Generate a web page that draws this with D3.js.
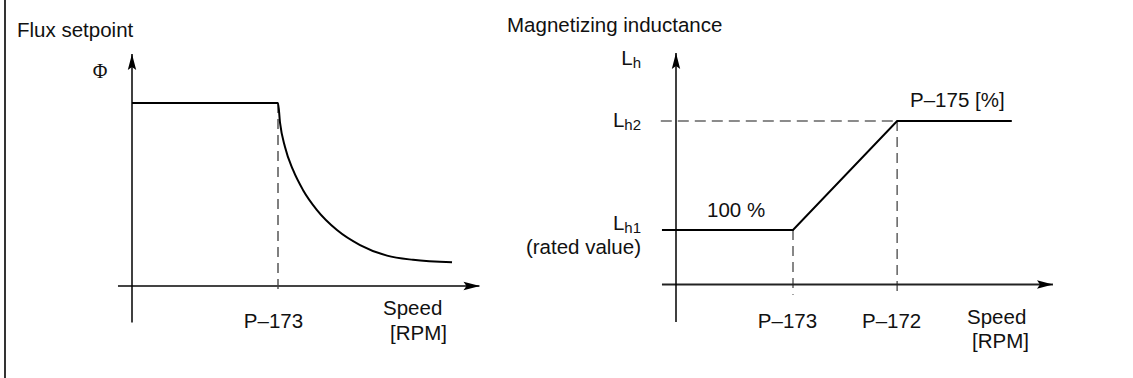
<!DOCTYPE html>
<html>
<head>
<meta charset="utf-8">
<script src="https://cdn.jsdelivr.net/npm/d3@7"></script>
<style>
  html, body { margin: 0; padding: 0; background: #fff; }
  svg { display: block; }
  text { font-family: "Liberation Sans", Arial, sans-serif; fill: #111; }
</style>
</head>
<body>
<svg id="chart" width="1133" height="378"></svg>
<script>
// Flux setpoint vs. speed (relative units: P-173 = 1, rated flux = 1)
const fluxSpeed = [0, 1, 1.014, 1.048, 1.103, 1.171, 1.267, 1.404, 1.562, 1.747, 1.925, 2.192];
const fluxValue = [1, 1, 0.891, 0.760, 0.634, 0.525, 0.415, 0.306, 0.224, 0.166, 0.143, 0.130];
const fluxTicks = [1];
const fluxTickLabels = ["P–173"];

// Magnetizing inductance vs. speed (Lh1 = 1, Lh2 = 3)
const lhSpeed = [-0.12, 1, 1.89, 2.87];
const lhValue = [1, 1, 3, 3];
const lhTicks = [1, 1.89];
const lhTickLabels = ["P–173", "P–172"];
const lhLevels = [3, 1];
const lhLevelSubs = ["h2", "h1"];
const lhLevelShift = [6, 0];

const svg = d3.select("#chart");
const FS = 20.5;

// frame line on the left
svg.append("line").attr("x1", 5).attr("x2", 5).attr("y1", 0).attr("y2", 378)
  .attr("stroke", "#000").attr("stroke-width", 1.6);

const defs = svg.append("defs");
defs.append("marker").attr("id", "arrow").attr("viewBox", "0 0 16 10")
  .attr("refX", 16).attr("refY", 5).attr("markerWidth", 16).attr("markerHeight", 10)
  .attr("markerUnits", "userSpaceOnUse").attr("orient", "auto")
  .append("path").attr("d", "M0,0.8 L16,5 L0,9.2 L3,5 Z").attr("fill", "#000");

function axes(g, x, y, xr, yr, xColor) {
  g.append("line")
    .attr("x1", x(xr[0])).attr("x2", x(xr[1]))
    .attr("y1", y(0)).attr("y2", y(0))
    .attr("stroke", xColor).attr("stroke-width", 1.8)
    .attr("marker-end", "url(#arrow)");
  g.append("line")
    .attr("x1", x(0)).attr("x2", x(0))
    .attr("y1", y(yr[0])).attr("y2", y(yr[1]))
    .attr("stroke", "#000").attr("stroke-width", 1.5)
    .attr("marker-end", "url(#arrow)");
}

function tickAxis(g, x, y0, ticks, labels, dx) {
  const ax = d3.axisBottom(x).tickValues(ticks)
    .tickFormat((d, i) => labels[i]).tickSize(0).tickPadding(0);
  const a = g.append("g").attr("transform", `translate(0,${y0})`).call(ax);
  a.select(".domain").remove();
  a.selectAll("text").attr("font-size", FS).attr("font-family", "Liberation Sans, Arial, sans-serif")
    .attr("fill", "#111").attr("dy", 0).attr("dx", dx).attr("y", 0);
}

// ---------- left panel: flux setpoint ----------
const lx = d3.scaleLinear().domain([0, 1]).range([132, 278]);
const ly = d3.scaleLinear().domain([0, 1]).range([286, 103]);
const left = svg.append("g");

left.append("text").attr("x", 17).attr("y", 37).attr("font-size", FS).text("Flux setpoint");
left.append("text").attr("x", 100).attr("y", 78).attr("text-anchor", "middle")
  .attr("font-size", 20).style("font-family", "'Liberation Serif', 'Times New Roman', serif").text("Φ");

left.append("line")
  .attr("x1", lx(1)).attr("x2", lx(1)).attr("y1", ly(1)).attr("y2", ly(-0.035))
  .attr("stroke", "#555").attr("stroke-width", 1.5).attr("stroke-dasharray", "10,6");

axes(left, lx, ly, [-0.096, 2.38], [-0.2, 1.268], "#444");

left.append("path")
  .datum(fluxSpeed.map((s, i) => [s, fluxValue[i]]))
  .attr("fill", "none").attr("stroke", "#000").attr("stroke-width", 2)
  .attr("d", d3.line().x(d => lx(d[0])).y(d => ly(d[1])).curve(d3.curveMonotoneX));

tickAxis(left, lx, 328, fluxTicks, fluxTickLabels, -5);
left.append("text").attr("x", 383).attr("y", 315).attr("font-size", FS).text("Speed");
left.append("text").attr("x", 390).attr("y", 340).attr("font-size", FS).text("[RPM]");

// ---------- right panel: magnetizing inductance ----------
const rx = d3.scaleLinear().domain([0, 1]).range([676, 793]);
const ry = d3.scaleLinear().domain([1, 3]).range([230, 121]);
const right = svg.append("g");

right.append("text").attr("x", 507).attr("y", 32).attr("font-size", FS).text("Magnetizing inductance");

// guide lines
right.append("line")
  .attr("x1", rx(-0.13)).attr("x2", rx(lhTicks[1])).attr("y1", ry(3)).attr("y2", ry(3))
  .attr("stroke", "#666").attr("stroke-width", 1.5).attr("stroke-dasharray", "11,6");
lhTicks.forEach((t, i) => {
  right.append("line")
    .attr("x1", rx(t)).attr("x2", rx(t)).attr("y1", ry(lhValue[i + 1])).attr("y2", ry(-0.19))
    .attr("stroke", "#555").attr("stroke-width", 1.4).attr("stroke-dasharray", "10,6");
});

axes(right, rx, ry, [-0.12, 3.222], [-0.688, 4.25], "#222");

right.append("path")
  .datum(lhSpeed.map((s, i) => [s, lhValue[i]]))
  .attr("fill", "none").attr("stroke", "#000").attr("stroke-width", 2)
  .attr("d", d3.line().x(d => rx(d[0])).y(d => ry(d[1])));

// y labels
function lLabel(yb, sub) {
  const t = right.append("text").attr("x", 641).attr("y", yb).attr("text-anchor", "end").attr("font-size", FS);
  t.append("tspan").text("L");
  t.append("tspan").attr("font-size", 15).attr("dy", 3).text(sub);
}
lLabel(65, "h");
lhLevels.forEach((v, i) => lLabel(ry(v) + lhLevelShift[i], lhLevelSubs[i]));
right.append("text").attr("x", 641).attr("y", 254).attr("text-anchor", "end").attr("font-size", FS).text("(rated value)");

right.append("text").attr("x", 707).attr("y", 217).attr("font-size", FS).text("100 %");
right.append("text").attr("x", 910).attr("y", 107).attr("font-size", FS).text("P–175 [%]");

tickAxis(right, rx, 328, lhTicks, lhTickLabels, -6);
right.append("text").attr("x", 967).attr("y", 324).attr("font-size", FS).text("Speed");
right.append("text").attr("x", 972).attr("y", 348).attr("font-size", FS).text("[RPM]");
</script>
</body>
</html>
